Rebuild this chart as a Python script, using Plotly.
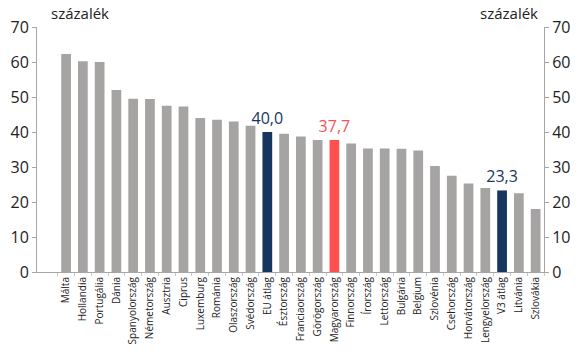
import plotly.graph_objects as go

categories = ["Málta", "Hollandia", "Portugália", "Dánia", "Spanyolország", "Németország",
              "Ausztria", "Ciprus", "Luxemburg", "Románia", "Olaszország", "Svédország",
              "EU átlag", "Észtország", "Franciaország", "Görögország", "Magyarország",
              "Finnország", "Írország", "Lettország", "Bulgária", "Belgium", "Szlovénia",
              "Csehország", "Horvátország", "Lengyelország", "V3 átlag", "Litvánia", "Szlovákia"]
values = [62.3, 60.2, 60.0, 52.0, 49.5, 49.4, 47.5, 47.3, 44.0, 43.5, 43.0, 41.8,
          40.0, 39.5, 38.7, 37.7, 37.7, 36.7, 35.3, 35.3, 35.2, 34.7, 30.3,
          27.5, 25.3, 24.0, 23.3, 22.5, 18.0]
highlight_labels = {"EU átlag": "40,0", "Magyarország": "37,7", "V3 átlag": "23,3"}
y_ticks = [0, 10, 20, 30, 40, 50, 60, 70]

GRAY = "#A6A3A3"
NAVY = "#17365D"
RED = "#FF5050"

colors = []
for c in categories:
    if c in ("EU átlag", "V3 átlag"):
        colors.append(NAVY)
    elif c == "Magyarország":
        colors.append(RED)
    else:
        colors.append(GRAY)

texts = [highlight_labels.get(c, "") for c in categories]
textcolors = [NAVY if c != "Magyarország" else RED for c in categories]

fig = go.Figure()
fig.add_trace(go.Bar(
    x=categories, y=values, marker_color=colors, marker_line_width=0,
    text=texts, textposition="outside", cliponaxis=False, constraintext="none",
    textfont=dict(size=16, color=textcolors, family="Open Sans"),
    hoverinfo="skip",
))
fig.add_trace(go.Scatter(x=[categories[0]], y=[0], yaxis="y2", mode="markers",
                         marker=dict(opacity=0), showlegend=False, hoverinfo="skip"))

axis_font = dict(size=16, color="#222", family="Open Sans")
fig.update_layout(
    width=581, height=361,
    margin=dict(l=37, r=37, t=27, b=89, autoexpand=False),
    plot_bgcolor="white", paper_bgcolor="white",
    showlegend=False, bargap=0.42,
    xaxis=dict(tickangle=-90, tickfont=dict(size=10, color="#222", family="Open Sans"),
               showline=True, linecolor="#A6A6A6", linewidth=1, ticks="outside",
               tickson="boundaries", ticklen=3, tickcolor="#C8C8C8",
               showgrid=False, automargin=False),
    yaxis=dict(range=[0, 70], tickvals=y_ticks, tickfont=axis_font, showgrid=False,
               showline=True, linecolor="#A6A6A6", linewidth=1, ticks="outside",
               tickcolor="#A6A6A6", ticklen=4, zeroline=False, automargin=False),
    yaxis2=dict(range=[0, 70], tickvals=y_ticks, tickfont=axis_font, showgrid=False,
                overlaying="y", side="right",
                showline=True, linecolor="#A6A6A6", linewidth=1, ticks="outside",
                tickcolor="#A6A6A6", ticklen=4, zeroline=False, automargin=False),
    annotations=[
        dict(text="százalék", xref="paper", yref="paper", x=0.085, y=1.0, yshift=14,
             showarrow=False, font=dict(size=15, color="#222", family="Open Sans"),
             xanchor="center", yanchor="middle"),
        dict(text="százalék", xref="paper", yref="paper", x=0.93, y=1.0, yshift=14,
             showarrow=False, font=dict(size=15, color="#222", family="Open Sans"),
             xanchor="center", yanchor="middle"),
    ],
)

fig.write_html("out.html", config={"displayModeBar": False},
               post_script="document.body.style.margin='0';")
